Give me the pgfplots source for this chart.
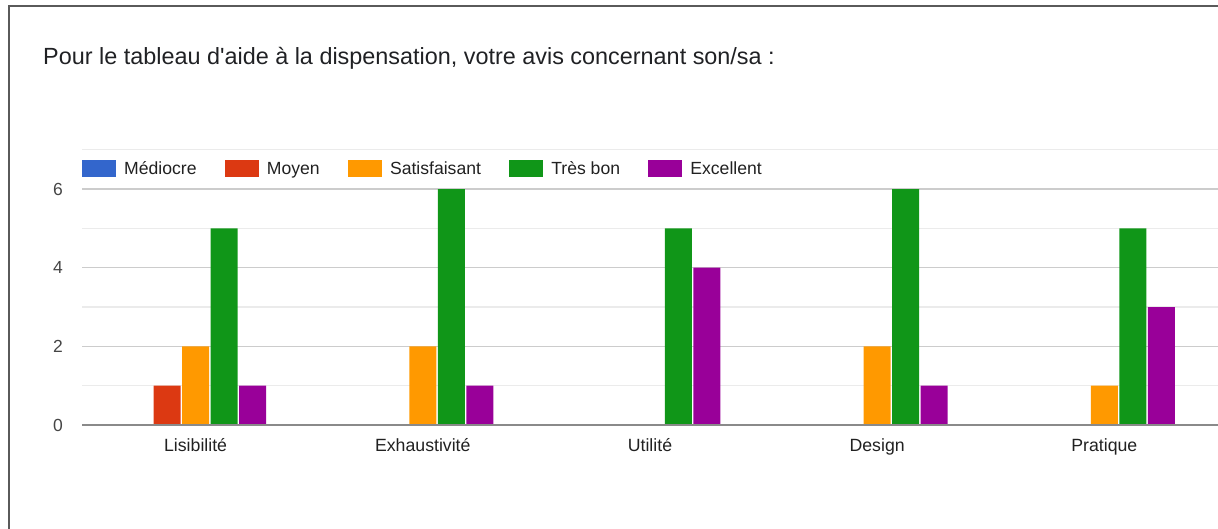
\documentclass[border=0pt]{standalone}
\usepackage{fontspec}
\setmainfont{Liberation Sans}
\usepackage{pgfplots}
\pgfplotsset{compat=1.18}

\definecolor{cMed}{HTML}{3366CC}
\definecolor{cMoy}{HTML}{DC3912}
\definecolor{cSat}{HTML}{FF9900}
\definecolor{cTb}{HTML}{109618}
\definecolor{cExc}{HTML}{990099}
\definecolor{frameC}{HTML}{5A5A5A}
\definecolor{titleC}{HTML}{202124}
\definecolor{gridMaj}{HTML}{CCCCCC}
\definecolor{gridMin}{HTML}{EBEBEB}
\definecolor{zeroC}{HTML}{8A8A8A}

\pgfplotsset{
  gbar/.style={fill=#1, draw=none,
    legend image code/.code={\fill[##1] (0pt,-8.5pt) rectangle (34pt,8.5pt);}},
}

\begin{document}
\begin{tikzpicture}
\path[use as bounding box] (0,0) rectangle (1218pt,528pt);
\begin{scope}
  \clip (0,0) rectangle (1218pt,528pt);
  \draw[frameC, line width=2pt] (9pt,-30pt) rectangle (1250pt,522pt);
\end{scope}
\node[anchor=base west, inner sep=0pt, text=titleC,
  font=\fontsize{23.4}{27}\selectfont] at (43pt,463pt)
  {Pour le tableau d\textquotesingle aide à la dispensation, votre avis concernant son/sa :};

\begin{axis}[
  at={(82pt,103pt)}, anchor=south west,
  scale only axis, width=1136pt, height=275.3pt,
  ybar=1.5pt, bar width=27pt,
  xmin=-0.5, xmax=4.5, ymin=0, ymax=7,
  xtick=data,
  xticklabels={Lisibilité,Exhaustivité,Utilité,Design,Pratique},
  ytick={0,2,4,6}, minor ytick={1,3,5,7},
  ymajorgrids, yminorgrids,
  major grid style={gridMaj, line width=1.2pt},
  minor grid style={gridMin, line width=1.2pt},
  axis line style={draw=none},
  tick style={draw=none},
  xticklabel style={inner sep=0pt, anchor=base, yshift=-22pt,
    font=\fontsize{17.7}{20}\selectfont, text=black!87},
  yticklabel style={inner sep=0pt, anchor=east, xshift=-19pt,
    font=\fontsize{17.5}{20}\selectfont, text=black!73},
  /pgf/number format/assume math mode=true,
  legend columns=-1,
  legend style={at={(0,0.931)}, anchor=west, draw=none, fill=none,
    inner sep=0pt, font=\fontsize{17.6}{21}\selectfont, text=black!87,
    cells={anchor=west},
    nodes={inner sep=0pt},
    /tikz/every odd column/.append style={column sep=8pt},
    /tikz/every even column/.append style={column sep=28.3pt}},
]
\addplot[gbar=cMed] coordinates {(0,0) (1,0) (2,0) (3,0) (4,0)};
\addplot[gbar=cMoy] coordinates {(0,1) (1,0) (2,0) (3,0) (4,0)};
\addplot[gbar=cSat] coordinates {(0,2) (1,2) (2,0) (3,2) (4,1)};
\addplot[gbar=cTb]  coordinates {(0,5) (1,6) (2,5) (3,6) (4,5)};
\addplot[gbar=cExc] coordinates {(0,1) (1,1) (2,4) (3,1) (4,3)};
\legend{Médiocre,Moyen,Satisfaisant,Très bon,Excellent}
\draw[zeroC, line width=2pt] (rel axis cs:0,0) -- (rel axis cs:1,0);
\end{axis}
\end{tikzpicture}
\end{document}
